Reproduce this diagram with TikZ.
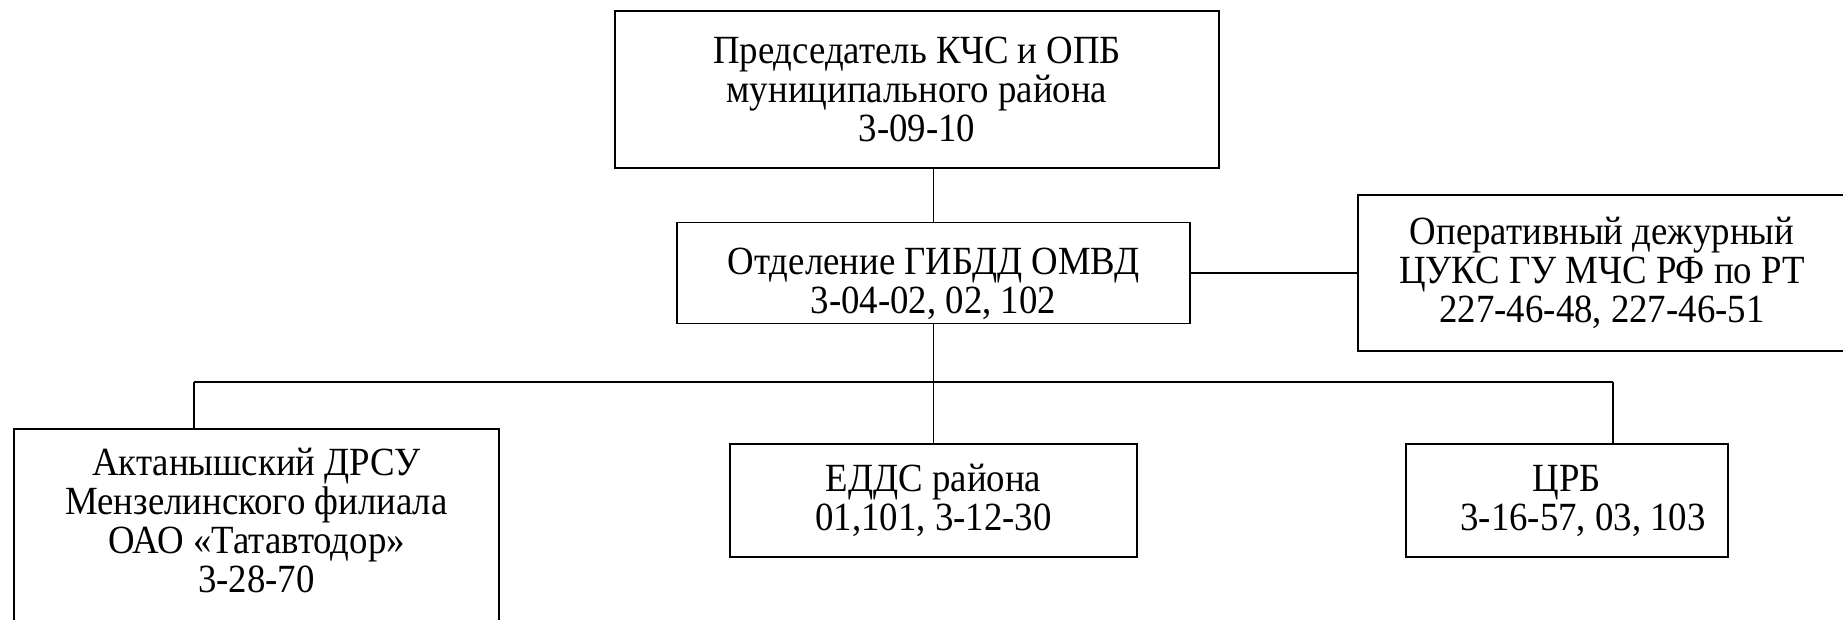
\documentclass[tikz,border=0pt]{standalone}
\usepackage{fontspec}
\setmainfont{Liberation Serif}[FakeStretch=0.92]
\usetikzlibrary{positioning}
\tikzset{
  unit/.style={draw,line width=0.8pt,align=center,inner sep=2pt,font=\fontsize{20}{19.5}\selectfont},
  link/.style={line width=0.7pt}
}

\begin{document}
\begin{tikzpicture}[x=0.5pt,y=-0.5pt]
  \useasboundingbox (0,0) rectangle (1843,620);
  \node[unit, minimum width=302pt, minimum height=78.5pt] (chair) at (917,89.5)
    {Председатель КЧС и ОПБ\\муниципального района\\3-09-10};
  \node[unit, minimum width=256.5pt, minimum height=49.5pt] (gibdd) at (933.5,273)
    {\rule{0pt}{24pt}Отделение ГИБДД ОМВД\\3-04-02, 02, 102};
  \node[unit, minimum width=244pt, minimum height=78pt] (cuks) at (1602,273)
    {Оперативный дежурный\\ЦУКС ГУ МЧС РФ по РТ\\227-46-48, 227-46-51};
  \node[unit, minimum width=242.5pt, minimum height=97pt] (drsu) at (256.5,526)
    {Актанышский ДРСУ\\Мензелинского филиала\\ОАО «Татавтодор»\\3-28-70\rule[-6pt]{0pt}{6pt}};
  \node[unit, minimum width=203.5pt, minimum height=56.5pt] (edds) at (933.5,500.5)
    {ЕДДС района\\01,101, 3-12-30};
  \node[unit, minimum width=161pt, minimum height=56.5pt] (crb) at (1567,500.5)
    {ЦРБ\\\hspace*{16pt}3-16-57, 03, 103};
  % shared line to the lower row
  \coordinate (spineL) at (194,382);
  \coordinate (spineR) at (1613,382);
  \draw[link] (chair.south -| gibdd.north) -- (gibdd.north);
  \draw[link] (gibdd.east) -- (cuks.west);
  \draw[link] (gibdd.south) -- (edds.north);
  \draw[link] (spineL) -- (spineR);
  \draw[link] (spineL) -- (spineL |- drsu.north);
  \draw[link] (spineR) -- (spineR |- crb.north);
\end{tikzpicture}
\end{document}
